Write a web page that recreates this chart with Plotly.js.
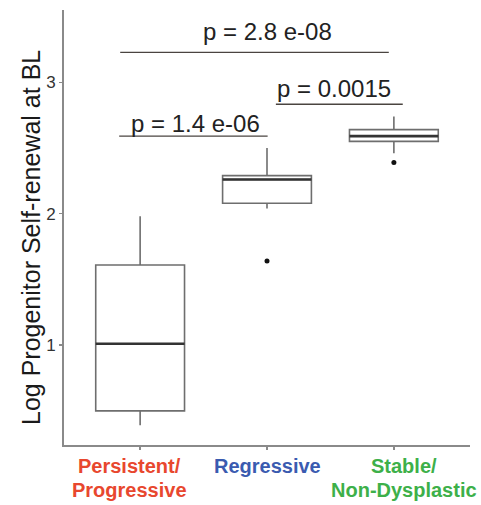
<!DOCTYPE html>
<html>
<head>
<meta charset="utf-8">
<script src="https://cdn.plot.ly/plotly-3.0.1.min.js"></script>
<style>html,body{margin:0;padding:0;background:#fff;}#chart{width:481px;height:505px;}</style>
</head>
<body>
<div id="chart"></div>
<script>
// ---- data ----
const categories = ["Persistent/Progressive", "Regressive", "Stable/Non-Dysplastic"];
const labelLine1 = ["Persistent/", "Regressive", "Stable/"];
const labelLine2 = ["Progressive", "", "Non-Dysplastic"];
const labelColors = ["#E8472E", "#3A5BB0", "#3DB049"];
const lowerFence = [0.39, 2.04, 2.46];
const q1 = [0.50, 2.08, 2.55];
const median = [1.01, 2.26, 2.59];
const q3 = [1.61, 2.29, 2.64];
const upperFence = [1.98, 2.50, 2.74];
const outlierCats = ["Regressive", "Stable/Non-Dysplastic"];
const outlierVals = [1.64, 2.39];
const yTicks = [1, 2, 3];
const pTexts = ["p = 2.8 e-08", "p = 0.0015", "p = 1.4 e-06"];

const FONT = "Liberation Sans, Arial, sans-serif";
const boxWidth = 0.7;

const traces = [{
  type: "box",
  x: categories,
  q1: q1, median: median, q3: q3,
  lowerfence: lowerFence, upperfence: upperFence,
  width: boxWidth,
  whiskerwidth: 0,
  fillcolor: "rgba(255,255,255,0)",
  line: {color: "#6e6e6e", width: 1.6},
  boxpoints: false,
  showlegend: false,
  hoverinfo: "skip"
}, {
  type: "scatter",
  mode: "markers",
  x: outlierCats,
  y: outlierVals,
  marker: {color: "#111", size: 5},
  showlegend: false,
  hoverinfo: "skip"
}];

const shapes = median.map((m, i) => ({
  type: "line", xref: "x", yref: "y",
  x0: i - boxWidth / 2, x1: i + boxWidth / 2, y0: m, y1: m,
  line: {color: "#333", width: 2.6}
}));

// significance brackets
const brackets = [
  {x0: -0.157, x1: 1.96, y: 3.228},
  {x0: 1.07, x1: 2.07, y: 2.833},
  {x0: -0.165, x1: 1.005, y: 2.59}
];
brackets.forEach(b => shapes.push({
  type: "line", xref: "x", yref: "y",
  x0: b.x0, x1: b.x1, y0: b.y, y1: b.y,
  line: {color: "#4a4440", width: 1.3}
}));

const pPos = [{x: 1.0, y: 3.386}, {x: 1.53, y: 2.956}, {x: 0.44, y: 2.69}];
const annotations = pTexts.map((t, i) => ({
  xref: "x", yref: "y", x: pPos[i].x, y: pPos[i].y,
  text: t, showarrow: false, xanchor: "center", yanchor: "middle",
  font: {family: FONT, size: 24, color: "#222"}
}));

const shifts = [-11, 0, 10];
categories.forEach((c, i) => {
  annotations.push({
    xref: "x", yref: "paper", x: i, y: -0.048, xshift: shifts[i],
    text: "<b>" + labelLine1[i] + "</b>", showarrow: false,
    xanchor: "center", yanchor: "middle", borderpad: 0,
    font: {family: FONT, size: 20, color: labelColors[i]}
  });
  if (labelLine2[i]) annotations.push({
    xref: "x", yref: "paper", x: i, y: -0.1036, xshift: shifts[i],
    text: "<b>" + labelLine2[i] + "</b>", showarrow: false,
    xanchor: "center", yanchor: "middle", borderpad: 0,
    font: {family: FONT, size: 20, color: labelColors[i]}
  });
});

annotations.push({
  xref: "paper", yref: "paper", x: -0.0825, y: 0.477,
  text: "Log Progenitor Self-renewal at BL", textangle: -90,
  showarrow: false, xanchor: "center", yanchor: "middle",
  font: {family: FONT, size: 25, color: "#1a1a1a"}
});

const layout = {
  width: 481, height: 505,
  margin: {l: 64, r: 11, t: 10, b: 60},
  paper_bgcolor: "#fff", plot_bgcolor: "#fff",
  showlegend: false,
  xaxis: {
    type: "category", categoryorder: "array", categoryarray: categories,
    range: [-0.6, 2.6],
    showline: true, linecolor: "#8a8a8a", linewidth: 2,
    ticks: "outside", ticklen: 3, tickcolor: "#8a8a8a", tickwidth: 1.5,
    showticklabels: false, showgrid: false, zeroline: false
  },
  yaxis: {
    range: [0.24, 3.55],
    tickvals: yTicks, ticktext: yTicks.map(String),
    showline: true, linecolor: "#8a8a8a", linewidth: 2,
    ticks: "outside", ticklen: 3, tickcolor: "#8a8a8a", tickwidth: 1.5,
    tickfont: {family: FONT, size: 17, color: "#333"},
    showgrid: false, zeroline: false
  },
  shapes: shapes,
  annotations: annotations
};

Plotly.newPlot("chart", traces, layout, {displayModeBar: false, staticPlot: true});
</script>
</body>
</html>
